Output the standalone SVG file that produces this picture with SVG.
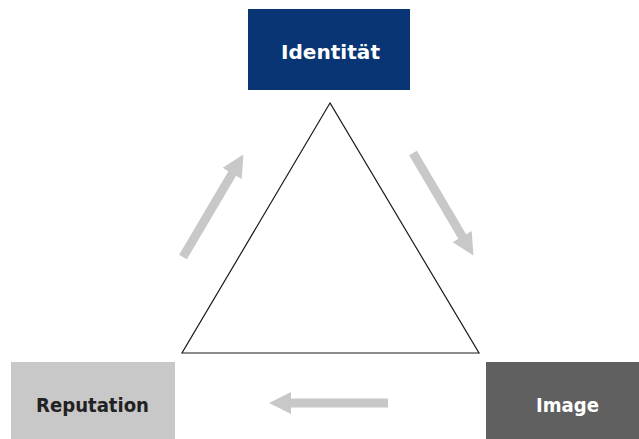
<svg xmlns="http://www.w3.org/2000/svg" xmlns:xlink="http://www.w3.org/1999/xlink" width="639" height="439" viewBox="0 0 639 439">
<style>
.lbl{font-family:"DejaVu Sans","Liberation Sans",sans-serif;font-weight:bold;font-size:19px;text-anchor:middle}
.arrow{fill:#c8c8c8}
</style>
<defs>
<polygon id="arr" points="0,-4.5 97,-4.5 97,-11 119,0 97,11 97,4.5 0,4.5"/>
</defs>
<rect width="639" height="439" fill="#ffffff"/>
<g id="connectors">
<polygon points="330,103 182,353 479,353" fill="none" stroke="#1a1a1a" stroke-width="1.2"/>
<use xlink:href="#arr" class="arrow" transform="translate(183,257) rotate(-59.5)"/>
<use xlink:href="#arr" class="arrow" transform="translate(413,153) rotate(59.5)"/>
<use xlink:href="#arr" class="arrow" transform="translate(388,403) rotate(180)"/>
</g>
<g id="identitaet">
<rect x="248" y="9" width="162" height="81" fill="#0a3575"/>
<text class="lbl" x="330.5" y="59" fill="#ffffff" font-size="21" textLength="99" lengthAdjust="spacingAndGlyphs">Identität</text>
</g>
<g id="reputation">
<rect x="11" y="362" width="164" height="77" fill="#c8c8c8"/>
<text class="lbl" x="92.5" y="412" fill="#222222" textLength="113" lengthAdjust="spacingAndGlyphs">Reputation</text>
</g>
<g id="image">
<rect x="486" y="362" width="153" height="77" fill="#606060"/>
<text class="lbl" x="567.5" y="412" fill="#ffffff" textLength="63" lengthAdjust="spacingAndGlyphs">Image</text>
</g>
</svg>
